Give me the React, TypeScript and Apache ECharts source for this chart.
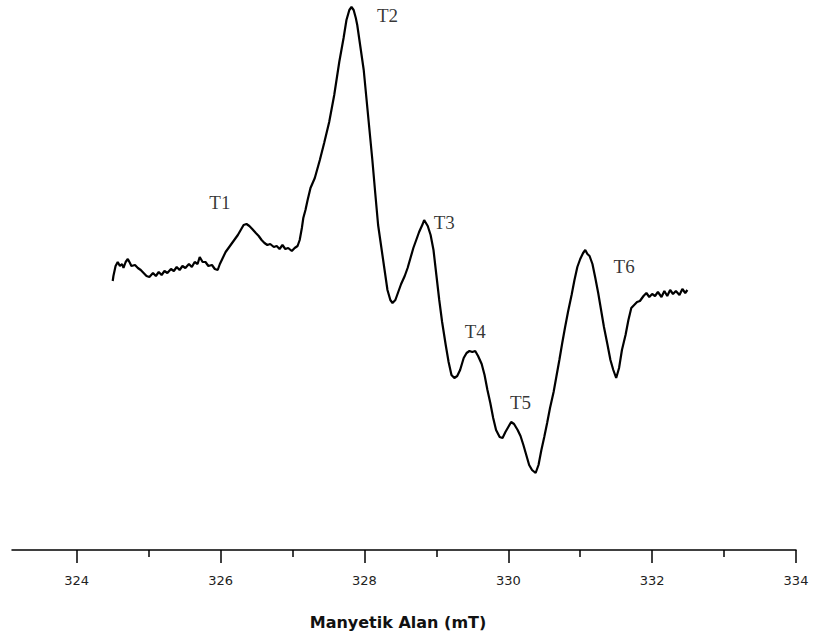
import React, { useEffect, useRef } from "react";
import * as echarts from "echarts";

// Magnetic field (mT) and ESR intensity (arbitrary units)
const field: number[] = [
  324.50, 324.51, 324.54, 324.57, 324.60, 324.63, 324.65, 324.68, 324.71, 324.74,
  324.76, 324.81, 324.85, 324.89, 324.93, 324.97, 325.01, 325.06, 325.10, 325.14,
  325.18, 325.22, 325.26, 325.31, 325.35, 325.39, 325.43, 325.47, 325.51, 325.56,
  325.60, 325.64, 325.68, 325.71, 325.75, 325.79, 325.83, 325.88, 325.92, 325.96,
  325.99, 326.03, 326.07, 326.11, 326.15, 326.19, 326.24, 326.28, 326.32, 326.36,
  326.40, 326.44, 326.49, 326.53, 326.57, 326.61, 326.65, 326.69, 326.74, 326.78,
  326.82, 326.86, 326.90, 326.94, 326.99, 327.03, 327.07, 327.10, 327.13, 327.15,
  327.18, 327.21, 327.25, 327.31, 327.38, 327.44, 327.51, 327.58, 327.65, 327.71,
  327.75, 327.79, 327.82, 327.85, 327.88, 327.90, 327.94, 327.99, 328.03, 328.07,
  328.11, 328.15, 328.19, 328.24, 328.28, 328.32, 328.36, 328.39, 328.43, 328.47,
  328.51, 328.56, 328.60, 328.64, 328.68, 328.72, 328.76, 328.81, 328.83, 328.88,
  328.92, 328.96, 329.00, 329.04, 329.08, 329.13, 329.17, 329.21, 329.25, 329.29,
  329.33, 329.38, 329.42, 329.46, 329.50, 329.54, 329.58, 329.63, 329.67, 329.71,
  329.75, 329.79, 329.83, 329.88, 329.92, 329.96, 330.00, 330.04, 330.08, 330.13,
  330.17, 330.21, 330.25, 330.29, 330.33, 330.38, 330.42, 330.46, 330.50, 330.54,
  330.58, 330.63, 330.67, 330.71, 330.75, 330.79, 330.83, 330.88, 330.92, 330.96,
  331.00, 331.04, 331.07, 331.10, 331.13, 331.17, 331.21, 331.25, 331.29, 331.33,
  331.38, 331.42, 331.46, 331.50, 331.54, 331.58, 331.63, 331.67, 331.71, 331.75,
  331.79, 331.83, 331.88, 331.92, 331.96, 332.00, 332.04, 332.08, 332.13, 332.17,
  332.21, 332.25, 332.29, 332.33, 332.38, 332.42, 332.46, 332.49,
];

const intensity: number[] = [
  19, 24, 34, 38, 34, 36, 32, 38, 41, 37,
  34, 35, 32, 30, 27, 24, 23, 27, 24, 28,
  25, 29, 27, 31, 29, 33, 30, 34, 32, 36,
  33, 38, 36, 43, 38, 38, 34, 35, 31, 30,
  36, 42, 48, 52, 56, 60, 65, 70, 75, 76,
  74, 71, 67, 64, 60, 57, 55, 56, 53, 54,
  51, 55, 51, 52, 49, 52, 54, 60, 72, 82,
  90, 100, 112, 122, 140, 157, 178, 205, 238, 262,
  280, 290, 293, 290, 282, 275, 255, 230, 200, 170,
  140, 107, 75, 50, 30, 10, 0, -3, 0, 8,
  16, 24, 32, 42, 52, 60, 68, 76, 80, 74,
  65, 50, 25, 0, -22, -45, -62, -75, -78, -76,
  -70, -58, -53, -51, -52, -51, -56, -64, -75, -90,
  -103, -118, -130, -137, -138, -132, -127, -122, -124, -130,
  -136, -145, -155, -165, -170, -173, -165, -150, -137, -123,
  -108, -92, -76, -60, -43, -27, -12, 5, 20, 33,
  41, 47, 50, 46, 44, 36, 22, 7, -10, -27,
  -45, -60, -70, -78, -68, -50, -35, -20, -8, -5,
  -2, -1, 4, 7, 3, 6, 4, 8, 3, 9,
  4, 10, 6, 9, 5, 11, 7, 10,
];

// Peak labels
const peakNames: string[] = ["T1", "T2", "T3", "T4", "T5", "T6"];
const peakField: number[] = [325.99, 328.32, 329.11, 329.54, 330.17, 331.61];
const peakIntensity: number[] = [98, 285, 78, -31, -102, 34];

// Axis ticks
const majorTicks: number[] = [324, 326, 328, 330, 332, 334];
const minorTicks: number[] = [325, 327, 329, 331, 333];
const xMin = 323.1;
const xMax = 334;
const axisTitle = "Manyetik Alan (mT)";

export default function App() {
  const ref = useRef<HTMLDivElement>(null);

  useEffect(() => {
    if (!ref.current) return;
    const chart = echarts.init(ref.current, undefined, { renderer: "svg" });
    const lineData = field.map((f, i) => [f, intensity[i]]);
    const labelData = peakNames.map((n, i) => ({
      name: n,
      value: [peakField[i], peakIntensity[i]],
    }));
    chart.setOption({
      animation: false,
      backgroundColor: "#ffffff",
      grid: { left: 12, right: 21, top: 0, bottom: 94, containLabel: false },
      xAxis: [
        {
          type: "value",
          min: xMin,
          max: xMax,
          position: "bottom",
          axisLine: { show: true, onZero: false, lineStyle: { color: "#000", width: 1.5 } },
          axisTick: {
            show: true,
            length: 13,
            customValues: majorTicks,
            lineStyle: { color: "#000", width: 1.5 },
          },
          axisLabel: {
            show: true,
            customValues: majorTicks,
            margin: 24,
            color: "#222",
            fontSize: 13,
            fontFamily: "DejaVu Sans",
            formatter: (v: number) => String(v),
          },
          splitLine: { show: false },
          name: axisTitle,
          nameLocation: "middle",
          nameGap: 64,
          nameTextStyle: {
            color: "#111",
            fontSize: 16,
            fontWeight: "bold",
            fontFamily: "DejaVu Sans",
            padding: [0, 12, 0, 0],
          },
        },
        {
          type: "value",
          min: xMin,
          max: xMax,
          position: "bottom",
          axisLine: { show: false, onZero: false },
          axisTick: {
            show: true,
            length: 7,
            customValues: minorTicks,
            lineStyle: { color: "#000", width: 1.5 },
          },
          axisLabel: { show: false },
          splitLine: { show: false },
        },
      ],
      yAxis: { type: "value", min: -250, max: 300, show: false },
      series: [
        {
          type: "line",
          xAxisIndex: 0,
          data: lineData,
          showSymbol: false,
          symbol: "none",
          lineStyle: { color: "#000", width: 2.2 },
          silent: true,
        },
        {
          type: "scatter",
          xAxisIndex: 0,
          data: labelData,
          symbolSize: 1,
          itemStyle: { color: "rgba(0,0,0,0)" },
          label: {
            show: true,
            position: "inside",
            formatter: (p: any) => p.name,
            color: "#000",
            fontSize: 19,
            fontFamily: "Liberation Serif",
          },
          silent: true,
        },
      ],
    });
    return () => chart.dispose();
  }, []);

  return (
    <div
      ref={ref}
      style={{ position: "fixed", left: 0, top: 0, width: 817, height: 644, background: "#fff" }}
    />
  );
}
